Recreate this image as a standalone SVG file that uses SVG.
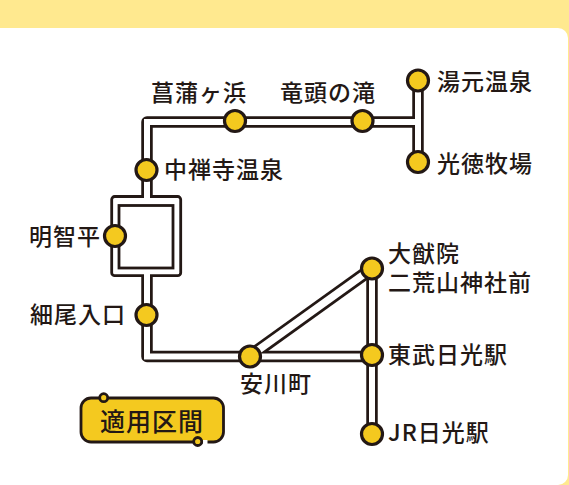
<svg xmlns="http://www.w3.org/2000/svg" width="569" height="485" viewBox="0 0 569 485">
<style>
.bg{fill:#ffe98f}
.d{fill:none;stroke:#231815;stroke-width:11.500;stroke-linejoin:round}
.w{fill:none;stroke:#fff;stroke-width:6;stroke-linejoin:miter}
.l{fill:#fff;stroke:#231815;stroke-width:2.800}
.st{fill:#f4c91f;stroke:#231815;stroke-width:3.200}
text{font-family:"Noto Sans CJK JP","Noto Sans",sans-serif;font-size:23px;font-weight:500;fill:#231815;letter-spacing:1px}
</style>
<rect class="bg" width="569" height="485"/>
<path d="M0 28H558a10 10 0 0 1 10 10V475a10 10 0 0 1 -10 10H0Z" fill="#fff"/>
<g id="connectors">
<rect class="l" x="111.700" y="196.500" width="69" height="79.200" rx="3"/>
<rect class="l" x="119" y="205.500" width="54" height="62.500"/>
<g class="d">
<path d="M147 170V122H418"/><path d="M418 80V162"/>
<path d="M147 170V197M147 275V356.500H372"/>
<path d="M250 356L372 268.500" style="stroke-width:13"/><path d="M372 268V434"/>
</g>
<g class="w">
<path d="M147 170V122H418"/><path d="M418 80V162"/>
<path d="M147 170V200M147 272V356.500H372"/>
<path d="M250 356L372 268.500" style="stroke-width:7.500"/><path d="M372 268V434"/>
</g>
</g>
<g id="n1"><circle class="st" cx="235" cy="121" r="10.500"/><text x="151" y="101">菖蒲ヶ浜</text></g>
<g id="n2"><circle class="st" cx="362.500" cy="121" r="10.500"/><text x="280" y="101">竜頭の滝</text></g>
<g id="n3"><circle class="st" cx="418" cy="80.500" r="10.500"/><text x="437" y="90">湯元温泉</text></g>
<g id="n4"><circle class="st" cx="418" cy="162" r="10.500"/><text x="437" y="172">光徳牧場</text></g>
<g id="n5"><circle class="st" cx="146.500" cy="170" r="10.500"/><text x="164" y="178">中禅寺温泉</text></g>
<g id="n6"><circle class="st" cx="115" cy="236" r="10.500"/><text x="29" y="245">明智平</text></g>
<g id="n7"><circle class="st" cx="146.500" cy="315" r="10.500"/><text x="30" y="323">細尾入口</text></g>
<g id="n8"><circle class="st" cx="250" cy="356.500" r="10.500"/><text x="240" y="392">安川町</text></g>
<g id="n9"><circle class="st" cx="372" cy="268.500" r="10.500"/><text x="388" y="262">大猷院</text><text x="388" y="291">二荒山神社前</text></g>
<g id="n10"><circle class="st" cx="372" cy="355" r="10.500"/><text x="388" y="363">東武日光駅</text></g>
<g id="n11"><circle class="st" cx="372" cy="434" r="10.500"/><text x="388" y="441">JR日光駅</text></g>
<g id="legend">
<rect x="81" y="398" width="142.500" height="44" rx="10" fill="#f4c91f" stroke="#231815" stroke-width="2.800"/>
<rect x="203" y="440" width="4.500" height="4.500" fill="#fff"/>
<circle cx="103.700" cy="397.700" r="4" fill="#f4c91f" stroke="#231815" stroke-width="2.800"/>
<circle cx="197.700" cy="441.500" r="4" fill="#f4c91f" stroke="#231815" stroke-width="2.800"/>
<text x="100" y="431" style="font-size:25px;letter-spacing:1px">適用区間</text>
</g>
</svg>
